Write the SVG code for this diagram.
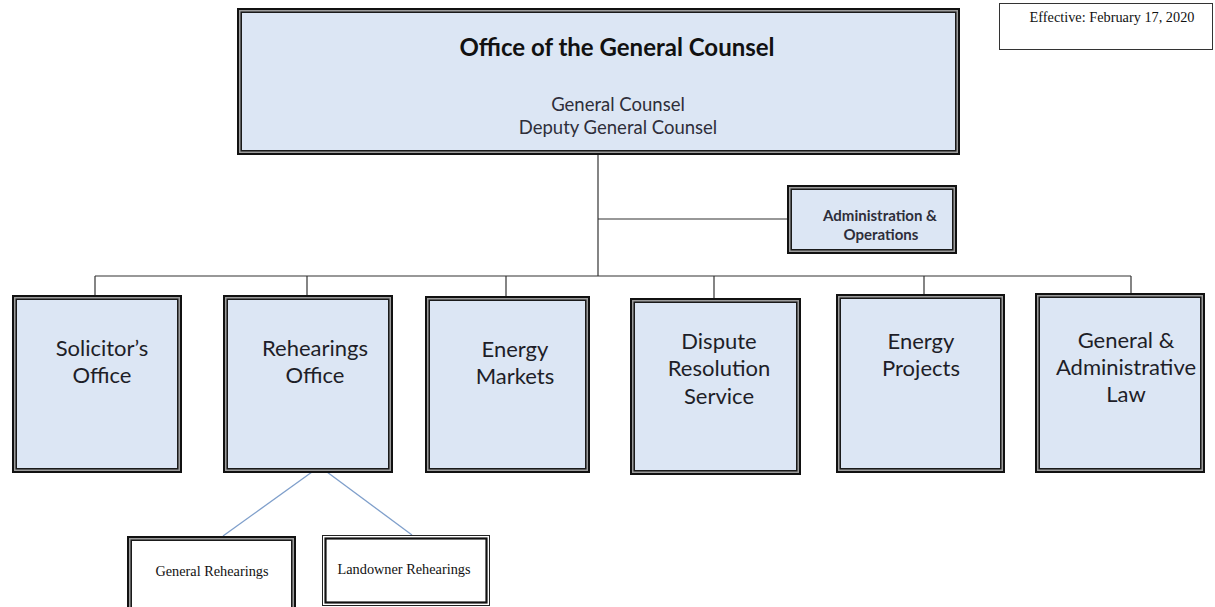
<svg xmlns="http://www.w3.org/2000/svg" width="1215" height="607" viewBox="0 0 1215 607">
  <style>
    .bg { fill: #ffffff; }
    .frame-outer { fill: #9c9c9c; stroke: #111111; stroke-width: 2; }
    .frame-inner { fill: #dce6f4; stroke: #1a1a1a; stroke-width: 1.5; }
    .frame-inner-white { fill: #ffffff; stroke: #1a1a1a; stroke-width: 1.5; }
    .link { fill: none; stroke: #333333; stroke-width: 1.2; }
    .sublink { fill: none; stroke: #7f9fcb; stroke-width: 1.3; }
    .title { font-family: Lato, "Liberation Sans", sans-serif; font-weight: 700; font-size: 24px; fill: #111111; text-anchor: middle; }
    .sub { font-family: Lato, "Liberation Sans", sans-serif; font-size: 18.5px; fill: #2e2e3a; text-anchor: middle; }
    .unit { font-family: Lato, "Liberation Sans", sans-serif; font-size: 22px; fill: #1e1e28; text-anchor: middle; }
    .admin { font-family: Lato, "Liberation Sans", sans-serif; font-weight: 700; font-size: 15px; fill: #2e2e3a; text-anchor: middle; }
    .serif { font-family: "Liberation Serif", serif; font-size: 14.3px; fill: #111111; text-anchor: middle; }
  </style>

  <rect class="bg" x="0" y="0" width="1215" height="607"/>

  <!-- connectors -->
  <g id="connectors">
    <path class="link" d="M598 155 V276"/>
    <path class="link" d="M598 219 H788"/>
    <path class="link" d="M95 276 H1131"/>
    <path class="link" d="M95 276 V295"/>
    <path class="link" d="M307 276 V295"/>
    <path class="link" d="M506 276 V296"/>
    <path class="link" d="M714 276 V298"/>
    <path class="link" d="M924 276 V294"/>
    <path class="link" d="M1131 276 V293"/>
    <path class="sublink" d="M312 472 L223 536"/>
    <path class="sublink" d="M327 472 L412 535"/>
  </g>

  <!-- effective date note -->
  <g id="effective-date">
    <rect x="999.5" y="3.5" width="213" height="46" fill="#ffffff" stroke="#333333" stroke-width="1"/>
    <text class="serif" x="1112" y="22">Effective: February 17, 2020</text>
  </g>

  <!-- head office -->
  <g id="general-counsel">
    <rect class="frame-outer" x="238" y="9" width="721" height="145"/>
    <rect class="frame-inner" x="241.25" y="12.25" width="714.5" height="138.5"/>
    <text class="title" x="617" y="56">Office of the General Counsel</text>
    <text class="sub" x="618" y="111">General Counsel</text>
    <text class="sub" x="618" y="134">Deputy General Counsel</text>
  </g>

  <g id="administration-operations">
    <rect class="frame-outer" x="788" y="186" width="168" height="67"/>
    <rect class="frame-inner" x="791.25" y="189.25" width="161.5" height="60.5"/>
    <text class="admin" x="880" y="221">Administration &amp;</text>
    <text class="admin" x="881" y="240">Operations</text>
  </g>

  <!-- divisions -->
  <g id="solicitors-office">
    <rect class="frame-outer" x="13" y="296" width="168" height="176"/>
    <rect class="frame-inner" x="16.25" y="299.25" width="161.5" height="169.5"/>
    <text class="unit" x="102" y="356">Solicitor’s</text>
    <text class="unit" x="102" y="383">Office</text>
  </g>

  <g id="rehearings-office">
    <rect class="frame-outer" x="224" y="296" width="168" height="176"/>
    <rect class="frame-inner" x="227.25" y="299.25" width="161.5" height="169.5"/>
    <text class="unit" x="315" y="356">Rehearings</text>
    <text class="unit" x="315" y="383">Office</text>
  </g>

  <g id="energy-markets">
    <rect class="frame-outer" x="426" y="297" width="163" height="175"/>
    <rect class="frame-inner" x="429.25" y="300.25" width="156.5" height="168.5"/>
    <text class="unit" x="515" y="357">Energy</text>
    <text class="unit" x="515" y="384">Markets</text>
  </g>

  <g id="dispute-resolution">
    <rect class="frame-outer" x="631" y="299" width="169" height="175"/>
    <rect class="frame-inner" x="634.25" y="302.25" width="162.5" height="168.5"/>
    <text class="unit" x="719" y="349">Dispute</text>
    <text class="unit" x="719" y="376">Resolution</text>
    <text class="unit" x="719" y="404">Service</text>
  </g>

  <g id="energy-projects">
    <rect class="frame-outer" x="837" y="295" width="167" height="177"/>
    <rect class="frame-inner" x="840.25" y="298.25" width="160.5" height="170.5"/>
    <text class="unit" x="921" y="349">Energy</text>
    <text class="unit" x="921" y="376">Projects</text>
  </g>

  <g id="general-administrative-law">
    <rect class="frame-outer" x="1036" y="294" width="168" height="178"/>
    <rect class="frame-inner" x="1039.25" y="297.25" width="161.5" height="171.5"/>
    <text class="unit" x="1126" y="348">General &amp;</text>
    <text class="unit" x="1126" y="375">Administrative</text>
    <text class="unit" x="1126" y="402">Law</text>
  </g>

  <!-- rehearings sub-units -->
  <g id="general-rehearings">
    <rect class="frame-outer" x="128" y="537" width="167" height="80"/>
    <rect class="frame-inner-white" x="131.25" y="540.25" width="160.5" height="73.5"/>
    <text class="serif" x="212" y="576">General Rehearings</text>
  </g>

  <g id="landowner-rehearings">
    <rect x="322.5" y="535.5" width="167" height="70" fill="#ffffff" stroke="#222222" stroke-width="1"/>
    <rect x="325.5" y="538.5" width="161" height="64" fill="#ffffff" stroke="#111111" stroke-width="2.2"/>
    <text class="serif" x="404" y="574">Landowner Rehearings</text>
  </g>
</svg>
